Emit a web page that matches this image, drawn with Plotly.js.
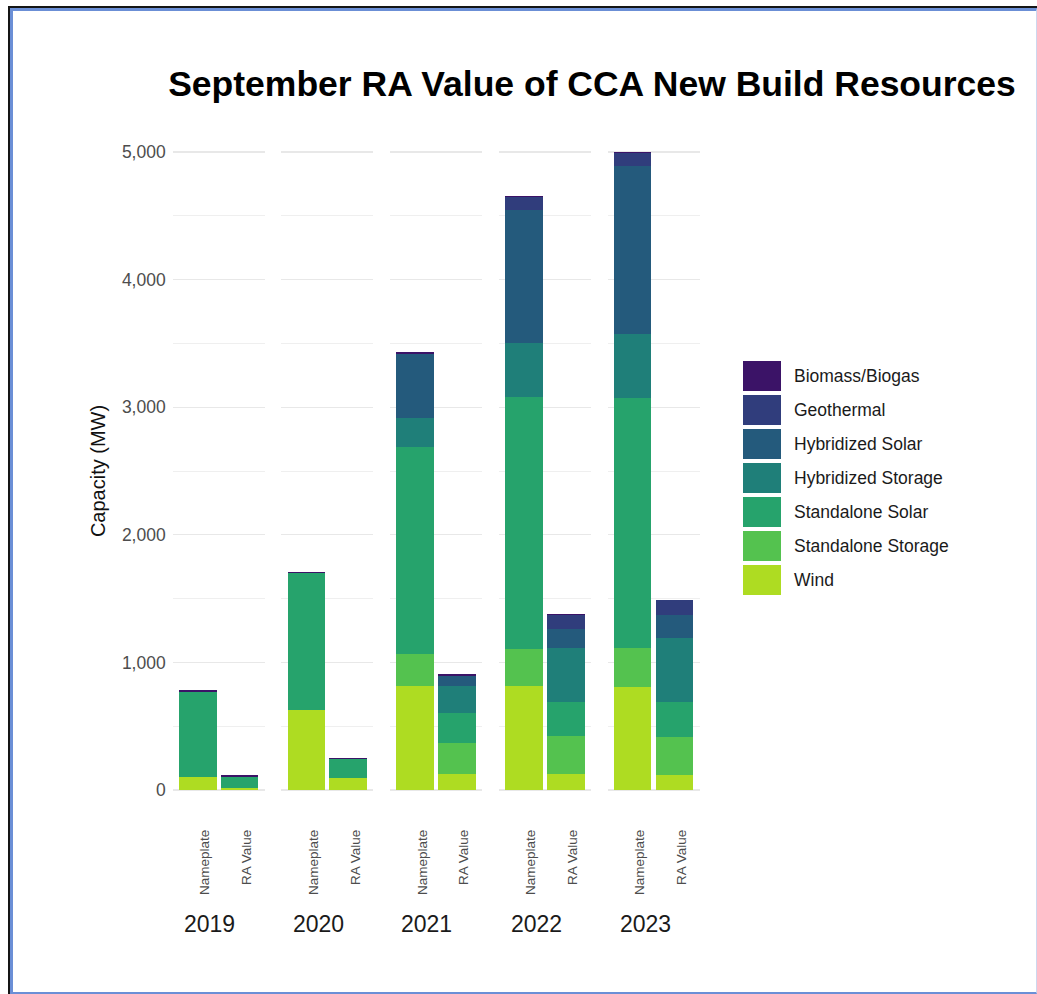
<!DOCTYPE html>
<html>
<head>
<meta charset="utf-8">
<script src="https://cdn.plot.ly/plotly-3.0.1.min.js"></script>
<style>
  html, body { margin: 0; padding: 0; background: #ffffff; }
  #wrap { position: relative; width: 1037px; height: 994px; overflow: hidden; }
  #chart { position: absolute; left: 0; top: 0; width: 1037px; height: 994px; }
  #frameOuter { position: absolute; left: 8px; top: 6px; width: 1029px; height: 988px;
    border-left: 2px solid #151515; border-top: 2px solid #151515; box-sizing: border-box; pointer-events: none; }
  #frameInner { position: absolute; left: 0; top: 0; right: 0; bottom: 0;
    border-left: 3px solid #6b8fd6; border-top: 3px solid #6b8fd6; border-bottom: 2px solid #6b8fd6;
    border-right: 1px solid #cdd7ee; box-sizing: border-box; }
</style>
</head>
<body>
<div id="wrap">
  <div id="chart"></div>
  <div id="frameOuter"><div id="frameInner"></div></div>
</div>
<script>
// ---- Data ----
const years = ['2019', '2020', '2021', '2022', '2023'];
const barTypes = ['Nameplate', 'RA Value'];
const resources = ['Biomass/Biogas', 'Geothermal', 'Hybridized Solar', 'Hybridized Storage',
                   'Standalone Solar', 'Standalone Storage', 'Wind'];
const resourceColors = ['#3b1367', '#303d7c', '#245a7c', '#1f7f79', '#26a36c', '#54c24f', '#aedc22'];

// values ordered [2019 Nameplate, 2019 RA, 2020 Nameplate, 2020 RA, ...] in MW
const biomass           = [12, 10,   11, 12,    20, 16,    5, 5,      5, 5];
const geothermal        = [0, 0,     0, 0,      0, 0,      103, 110,  104, 111];
const hybridizedSolar   = [0, 0,     0, 0,      495, 78,   1045, 149, 1315, 185];
const hybridizedStorage = [0, 0,     0, 0,      228, 215,  422, 422,  502, 496];
const standaloneSolar   = [667, 89,  1070, 149, 1625, 230, 1971, 272, 1964, 281];
const standaloneStorage = [0, 0,     0, 0,      249, 246,  292, 298,  300, 294];
const wind              = [105, 16,  628, 94,   817, 126,  815, 124,  810, 119];

const seriesValues = [biomass, geothermal, hybridizedSolar, hybridizedStorage,
                      standaloneSolar, standaloneStorage, wind];

const yTickVals = [0, 1000, 2000, 3000, 4000, 5000];
const yMinorVals = [500, 1500, 2500, 3500, 4500];

// ---- Layout geometry (pixels) ----
const W = 1037, H = 994;
const L = 172, R = 1000, T = 120, B = 822;
const PW = R - L, PH = B - T;
const fx = px => (px - L) / PW;
const fy = py => (B - py) / PH;

const facetStart = 172.7, facetStep = 108.7, facetWidth = 92;
const yearCenters = [209.5, 318.5, 426.5, 536, 645.5];

const traces = [];
// stack from bottom (Wind) to top (Biomass/Biogas)
for (let r = resources.length - 1; r >= 0; r--) {
  years.forEach((yr, k) => {
    traces.push({
      type: 'bar',
      name: resources[r],
      x: barTypes,
      y: [seriesValues[r][2 * k], seriesValues[r][2 * k + 1]],
      xaxis: k === 0 ? 'x' : 'x' + (k + 1),
      yaxis: 'y',
      marker: { color: resourceColors[r], line: { width: 0 } },
      showlegend: false,
      hovertemplate: yr + ' %{x}<br>' + resources[r] + ': %{y:,} MW<extra></extra>'
    });
  });
}

// legend drawn as a small bar panel (swatches) with labels on the right
traces.push({
  type: 'bar',
  orientation: 'h',
  x: resources.map(() => 1),
  y: resources,
  width: 0.88,
  xaxis: 'x6',
  yaxis: 'y6',
  marker: { color: resourceColors, line: { width: 0 } },
  showlegend: false,
  hoverinfo: 'skip'
});

const layout = {
  width: W,
  height: H,
  margin: { l: L, r: W - R, t: T, b: H - B },
  paper_bgcolor: '#ffffff',
  plot_bgcolor: '#ffffff',
  barmode: 'stack',
  bargap: 0.1,
  showlegend: false,
  font: { family: 'Liberation Sans, Arial, sans-serif', color: '#4d4d4d' },
  title: {
    text: 'September RA Value of CCA New Build Resources',
    xref: 'container', yref: 'container',
    x: 592 / W, xanchor: 'center',
    y: 1 - 84 / H, yanchor: 'middle',
    font: { family: 'Liberation Sans, Arial, sans-serif', size: 35.5, color: '#000000', weight: 'bold' }
  },
  yaxis: {
    anchor: 'x',
    domain: [0, 1],
    range: [-250, 5250],
    tickvals: yTickVals,
    tickformat: ',d',
    ticks: '',
    ticklabelstandoff: 6,
    tickfont: { size: 17.5, color: '#4d4d4d' },
    showgrid: true,
    gridcolor: '#e8e8e8',
    gridwidth: 1.2,
    minor: { tickvals: yMinorVals, showgrid: true, gridcolor: '#efefef', gridwidth: 1, ticks: '' },
    zeroline: false,
    showline: false,
    title: { text: 'Capacity (MW)', standoff: 10, font: { size: 20, color: '#111111' } }
  },
  annotations: [],
  xaxis6: {
    domain: [fx(743), fx(781)], anchor: 'y6', range: [0, 1],
    visible: false, fixedrange: true
  },
  yaxis6: {
    domain: [fy(597), fy(359)], anchor: 'x6', type: 'category',
    categoryorder: 'array', categoryarray: resources, autorange: 'reversed',
    side: 'right', ticks: '', showgrid: false, zeroline: false, showline: false,
    ticklabelstandoff: 12,
    tickfont: { size: 17.5, color: '#1a1a1a' }, fixedrange: true
  }
};

years.forEach((yr, k) => {
  const key = k === 0 ? 'xaxis' : 'xaxis' + (k + 1);
  const x0 = facetStart + facetStep * k;
  layout[key] = {
    domain: [fx(x0), fx(x0 + facetWidth)],
    anchor: 'y',
    type: 'category',
    categoryorder: 'array',
    categoryarray: barTypes,
    range: [-0.6, 1.6],
    showgrid: false,
    zeroline: false,
    showline: false,
    ticks: '',
    tickangle: -90,
    ticklabelstandoff: 4,
    ticklabelshift: 7,
    tickfont: { size: 13.5, color: '#4d4d4d' },
    fixedrange: true
  };
  layout.annotations.push({
    text: yr,
    xref: 'paper', yref: 'paper',
    x: fx(yearCenters[k]), y: fy(924),
    xanchor: 'center', yanchor: 'middle',
    showarrow: false,
    font: { size: 23, color: '#1a1a1a' }
  });
});

Plotly.newPlot('chart', traces, layout, { displayModeBar: false, staticPlot: true });
</script>
</body>
</html>
